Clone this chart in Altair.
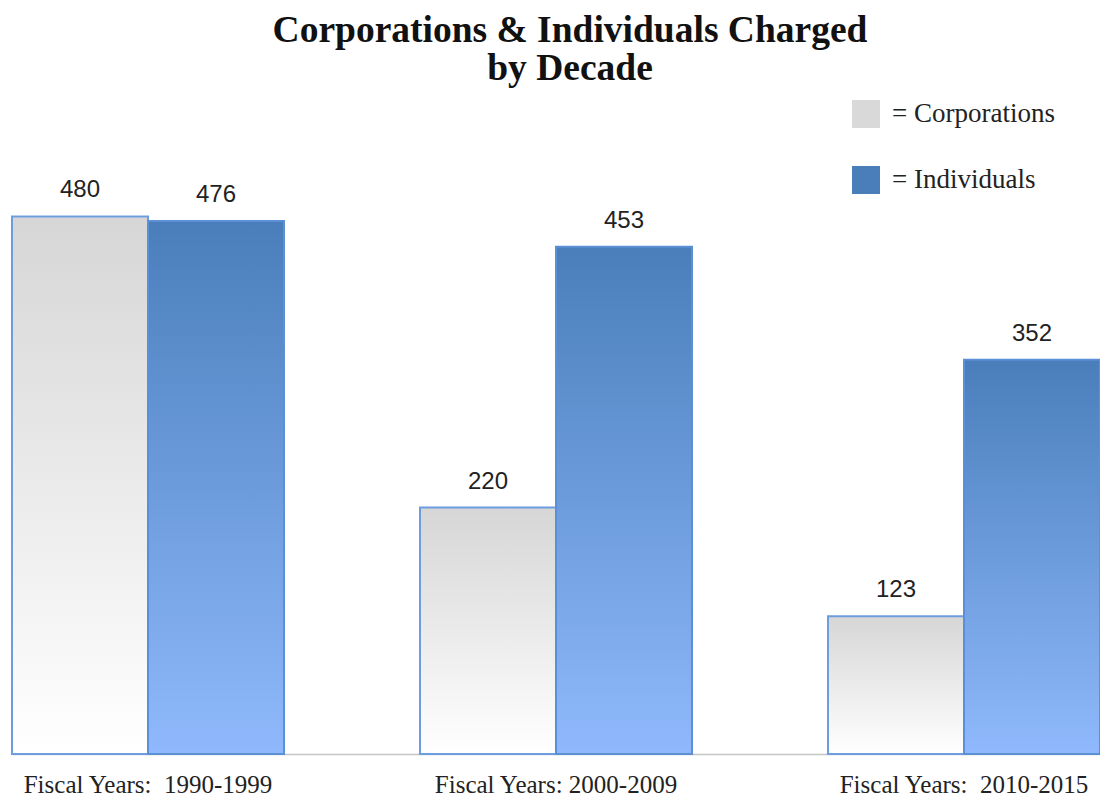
import altair as alt
import pandas as pd

periods = ["Fiscal Years:\u00a0 1990-1999", "Fiscal Years: 2000-2009", "Fiscal Years:\u00a0 2010-2015"]
series_names = ["Corporations", "Individuals"]
corporations = [480, 220, 123]
individuals = [476, 453, 352]

rows = []
for p, c, i in zip(periods, corporations, individuals):
    rows.append({"period": p, "series": "Corporations", "value": c})
    rows.append({"period": p, "series": "Individuals", "value": i})
df = pd.DataFrame(rows)

x = alt.X(
    "period:N",
    sort=periods,
    scale=alt.Scale(paddingInner=1 / 3, paddingOuter=0),
    axis=alt.Axis(
        title=None, labelAngle=0, ticks=False, grid=False,
        domainColor="#c4c4c4", domainWidth=1.5,
        labelFont="Liberation Serif", labelFontSize=25, labelColor="#222222",
        labelPadding=18, labelLimit=0,
    ),
)
xo = alt.XOffset("series:N", sort=series_names, scale=alt.Scale(paddingInner=0, paddingOuter=0))
y = alt.Y("value:Q", scale=alt.Scale(domain=[0, 578.6]), axis=None)

corp_grad = alt.Gradient(
    gradient="linear",
    stops=[alt.GradientStop(color="#d6d6d6", offset=0), alt.GradientStop(color="#ffffff", offset=1)],
    x1=0, x2=0, y1=0, y2=1,
)
ind_grad = alt.Gradient(
    gradient="linear",
    stops=[alt.GradientStop(color="#4a7ebb", offset=0), alt.GradientStop(color="#8fb9fc", offset=1)],
    x1=0, x2=0, y1=0, y2=1,
)

base = alt.Chart(df)

legend_layer = base.mark_square(opacity=0, size=784).encode(
    x=x, xOffset=xo, y=y,
    color=alt.Color(
        "series:N",
        sort=series_names,
        scale=alt.Scale(domain=series_names, range=["#d9d9d9", "#4a7ebb"]),
        legend=alt.Legend(
            orient="none", legendX=840, legendY=-6, title=None,
            symbolType="square", symbolSize=784, symbolStrokeWidth=0, symbolOpacity=1,
            labelFont="Liberation Serif", labelFontSize=27, labelColor="#222222",
            labelOffset=12, rowPadding=38, padding=0, labelLimit=0,
            labelExpr="'= ' + datum.label",
        ),
    ),
)

corp_bars = base.transform_filter(alt.datum.series == "Corporations").mark_bar(
    fill=corp_grad, stroke="#6e9ddf", strokeWidth=2
).encode(x=x, xOffset=xo, y=y)

ind_bars = base.transform_filter(alt.datum.series == "Individuals").mark_bar(
    fill=ind_grad, stroke="#5b8fd6", strokeWidth=2
).encode(x=x, xOffset=xo, y=y)

labels = base.mark_text(
    font="Liberation Sans", fontSize=24, color="#222222", baseline="alphabetic", dy=-19
).encode(x=x, xOffset=xo, y=y, text=alt.Text("value:Q"))

chart = (
    alt.layer(legend_layer, corp_bars, ind_bars, labels)
    .properties(
        width=1088,
        height=648,
        title=alt.TitleParams(
            text=["Corporations & Individuals Charged", "by Decade"],
            font="Liberation Serif", fontSize=37.5, fontWeight="bold", color="#111111",
            lineHeight=38, anchor="middle", dx=14, offset=13,
        ),
        autosize=alt.AutoSizeParams(type="none"),
        padding={"left": 4, "top": 98, "right": 0, "bottom": 43},
        background="white",
    )
    .configure_view(strokeWidth=0)
)

chart.save("out.html", embed_options={"renderer": "svg", "actions": False})
